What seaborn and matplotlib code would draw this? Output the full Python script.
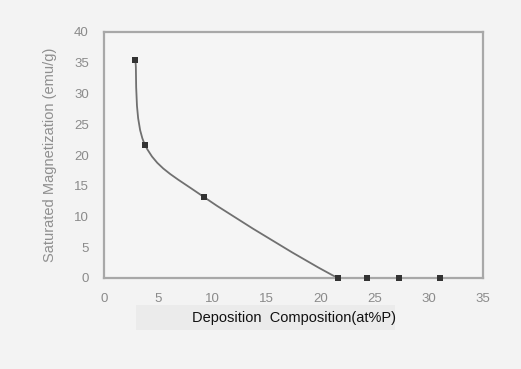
import numpy as np
import pandas as pd
import matplotlib
matplotlib.use("Agg")
import matplotlib.pyplot as plt
from matplotlib.path import Path
from matplotlib.patches import PathPatch, Rectangle
import seaborn as sns

# data
composition = [2.9, 3.8, 9.2, 21.6, 24.3, 27.2, 31.0]
magnetization = [35.4, 21.6, 13.2, 0.0, 0.0, 0.0, 0.0]
x_ticks = [0, 5, 10, 15, 20, 25, 30, 35]
y_ticks = [0, 5, 10, 15, 20, 25, 30, 35, 40]

sns.set_theme(style="white")
plt.rcParams['font.family'] = ['Liberation Sans', 'DejaVu Sans']

bg = "#f3f3f3"
fig = plt.figure(figsize=(5.21, 3.69), dpi=100, facecolor=bg)
ax = fig.add_axes([104/521, 1-278/369, (483-104)/521, (278-32)/369])
ax.set_facecolor("#f5f5f5")

df = pd.DataFrame({"x": composition, "y": magnetization})

# Excel-style smoothed line (Catmull-Rom -> cubic Bezier) through the data points
P = np.column_stack([composition, magnetization])
verts = [tuple(P[0])]
codes = [Path.MOVETO]
n = len(P)
for i in range(n - 1):
    p0 = P[i - 1] if i > 0 else P[i]
    p1 = P[i]
    p2 = P[i + 1]
    p3 = P[i + 2] if i + 2 < n else P[i + 1]
    c1 = p1 + (p2 - p0) / 6.0
    c2 = p2 - (p3 - p1) / 6.0
    verts += [tuple(c1), tuple(c2), tuple(p2)]
    codes += [Path.CURVE4] * 3
patch = PathPatch(Path(verts, codes), facecolor="none", edgecolor="#707070", lw=1.3, zorder=2)
ax.add_patch(patch)

sns.scatterplot(data=df, x="x", y="y", ax=ax, marker="s", s=13, color="#333333",
                edgecolor="#333333", linewidth=0, zorder=3, clip_on=False)

ax.set_xlim(0, 35)
ax.set_ylim(0, 40)
ax.set_xticks(x_ticks)
ax.set_yticks(y_ticks)
ax.tick_params(axis="both", length=0, labelsize=9.5, labelcolor="#8a8a8a")
ax.tick_params(axis="x", pad=11)
ax.tick_params(axis="y", pad=11)
for s in ax.spines.values():
    s.set_visible(True)
    s.set_color("#a8a8a8")
    s.set_linewidth(1.6)

ax.set_xlabel("")
ax.set_ylabel("Saturated Magnetization (emu/g)", fontsize=10.5, color="#8f8f8f", labelpad=12)

# label box and x label
fig.patches.append(Rectangle((136/521, 1-330/369), (395-136)/521, (330-305)/369,
                             transform=fig.transFigure, facecolor="#ebebeb", edgecolor="none"))
fig.text(294/521, 1-318/369, "Deposition  Composition(at%P)", ha="center", va="center",
         fontsize=10.5, color="#111111")

fig.savefig("out.png", dpi=100, facecolor=bg)
